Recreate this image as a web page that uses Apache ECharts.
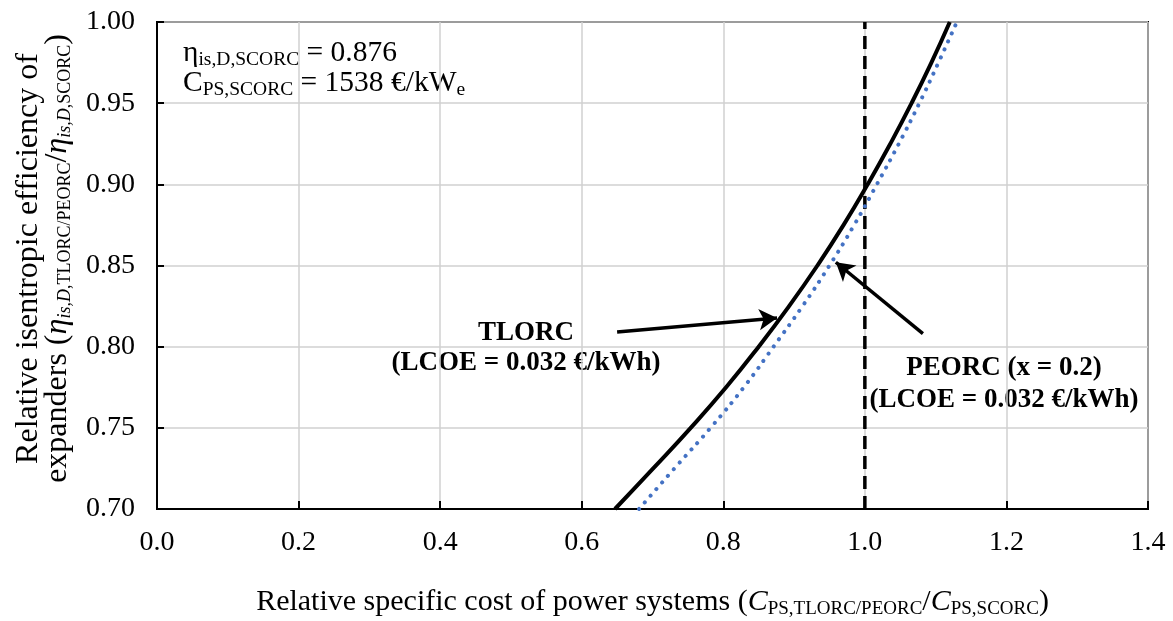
<!DOCTYPE html>
<html>
<head>
<meta charset="utf-8">
<script src="https://cdn.jsdelivr.net/npm/echarts@6/dist/echarts.min.js"></script>
<style>
  html, body { margin: 0; padding: 0; background: #fff; }
  #chart { width: 1173px; height: 621px; }
</style>
</head>
<body>
<div id="chart"></div>
<script>
// relative efficiency values (y) and the matching relative costs (x)
const etaRel = [0.70, 0.725, 0.75, 0.775, 0.80, 0.825, 0.85, 0.875, 0.90, 0.925, 0.95, 0.975, 1.00];
const tlorcCost = [0.647, 0.701, 0.754, 0.804, 0.850, 0.893, 0.933, 0.970, 1.004, 1.036, 1.066, 1.094, 1.120];
const peorcCost = [0.681, 0.731, 0.782, 0.829, 0.871, 0.912, 0.950, 0.985, 1.017, 1.048, 1.077, 1.104, 1.130];

// reference line at relative cost = 1
const refCost = [1.0, 1.0];
const refEta = [0.70, 1.00];

// arrows: [start, end] in data units
const tlorcArrow = [[0.650, 0.809], [0.876, 0.8177]];
const peorcArrow = [[1.082, 0.808], [0.959, 0.852]];

const xTicks = { min: 0, max: 1.4, step: 0.2 };
const yTicks = { min: 0.70, max: 1.00, step: 0.05 };

const FONT = "'Liberation Serif', 'Times New Roman', serif";
const chart = echarts.init(document.getElementById('chart'));

const pairs = (xs, ys) => xs.map((x, i) => [x, ys[i]]);

// rich text styles; main text sits in the middle, subscripts drop to the bottom
const txt = (size, lh, extra) => Object.assign({ fontFamily: FONT, fontSize: size, color: '#000', lineHeight: lh, verticalAlign: 'middle' }, extra || {});
const sub = (size, lh, extra) => Object.assign({ fontFamily: FONT, fontSize: size, color: '#000', lineHeight: lh, verticalAlign: 'bottom' }, extra || {});

const xNameRich = {
  n: txt(30, 34), i: txt(30, 34, { fontStyle: 'italic' }),
  s: sub(19, 14)
};
const yNameRich = {
  t: txt(32, 26),
  n: txt(32, 32), i: txt(32, 32, { fontStyle: 'italic' }),
  s: sub(18, 12), si: sub(18, 12, { fontStyle: 'italic' })
};
const noteRich = {
  n: txt(29.5, 34),
  s: sub(19.5, 14)
};

const arrowLine = (a) => [{ coord: a[0], symbol: 'none' }, { coord: a[1], symbol: 'arrow' }];

const boldLabel = (text, x, y) => ({
  type: 'text', x: x, y: y,
  style: { text: text, fontFamily: FONT, fontSize: 27, fontWeight: 'bold', fill: '#000', align: 'center', verticalAlign: 'middle' }
});

chart.setOption({
  animation: false,
  grid: {
    left: 157, right: 25, top: 22, bottom: 112,
    outerBoundsMode: 'none',
    containLabel: false,
    show: true, borderColor: '#000', borderWidth: 2
  },
  xAxis: {
    type: 'value',
    min: xTicks.min, max: xTicks.max, interval: xTicks.step,
    name: '{n|Relative specific cost of power systems (}{i|C}{s|PS,TLORC/PEORC}{n|/}{i|C}{s|PS,SCORC}{n|)}',
    nameLocation: 'middle',
    nameGap: 76,
    nameTextStyle: { rich: xNameRich },
    axisLine: { onZero: false, lineStyle: { color: '#000', width: 2 } },
    axisTick: { inside: true, length: 8, lineStyle: { color: '#000', width: 2 } },
    axisLabel: {
      margin: 20, color: '#000', fontFamily: FONT, fontSize: 28,
      formatter: v => v.toFixed(1)
    },
    splitLine: { show: true, lineStyle: { color: '#d0d0d0', width: 1.5 } }
  },
  yAxis: {
    type: 'value',
    min: yTicks.min, max: yTicks.max, interval: yTicks.step,
    name: '{t|Relative isentropic efficiency of}\n{n|expanders (}{i|η}{si|is,D}{s|,TLORC/PEORC}{n|/}{i|η}{si|is,D}{s|,SCORC}{n|)}',
    nameLocation: 'middle',
    nameRotate: 90,
    nameGap: 83,
    nameTextStyle: { rich: yNameRich, align: 'center', padding: [0, 0, 0, 14] },
    axisLine: { onZero: false, lineStyle: { color: '#000', width: 2 } },
    axisTick: { inside: true, length: 7, lineStyle: { color: '#000', width: 2 } },
    axisLabel: {
      margin: 22, color: '#000', fontFamily: FONT, fontSize: 28,
      formatter: v => v.toFixed(2)
    },
    splitLine: { show: true, lineStyle: { color: '#d0d0d0', width: 1.5 } }
  },
  series: [
    {
      name: 'Reference',
      type: 'line',
      data: pairs(refCost, refEta),
      symbol: 'none',
      lineStyle: { color: '#000', width: 3.5, type: [13, 7] },
      z: 3
    },
    {
      name: 'PEORC',
      type: 'line',
      data: pairs(peorcCost, etaRel),
      symbol: 'none',
      smooth: true,
      lineStyle: { color: '#4472C4', width: 4, type: [0.1, 8.7], cap: 'round' },
      z: 4
    },
    {
      name: 'TLORC',
      type: 'line',
      data: pairs(tlorcCost, etaRel),
      symbol: 'none',
      smooth: true,
      lineStyle: { color: '#000', width: 4 },
      z: 5,
      markLine: {
        silent: true,
        symbolSize: [16, 18],
        label: { show: false },
        lineStyle: { color: '#000', width: 3.5, type: 'solid' },
        emphasis: { disabled: true },
        data: [arrowLine(tlorcArrow), arrowLine(peorcArrow)]
      }
    }
  ],
  graphic: [
    {
      type: 'text', left: 183, top: 38,
      style: { rich: noteRich, text: '{n|η}{s|is,D,SCORC}{n| = 0.876}' }
    },
    {
      type: 'text', left: 183, top: 68,
      style: { rich: noteRich, text: '{n|C}{s|PS,SCORC}{n| = 1538 €/kW}{s|e}' }
    },
    boldLabel('TLORC', 526, 333),
    boldLabel('(LCOE = 0.032 €/kWh)', 526, 363),
    boldLabel('PEORC (x = 0.2)', 1004, 368),
    boldLabel('(LCOE = 0.032 €/kWh)', 1004, 400)
  ]
});
</script>
</body>
</html>
